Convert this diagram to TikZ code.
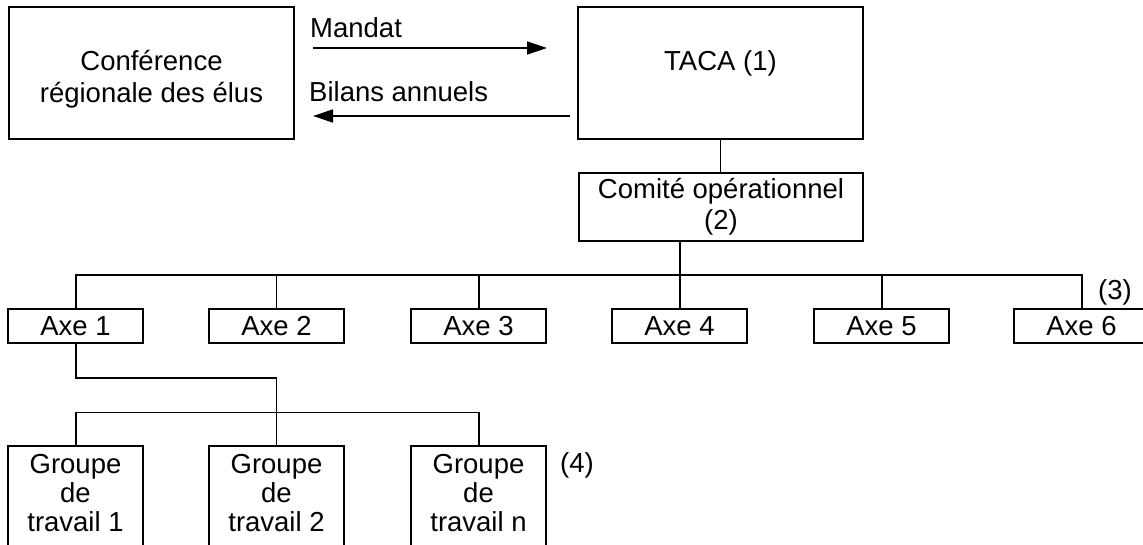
\documentclass[tikz,border=0pt]{standalone}
\usepackage{fontspec}
\setmainfont{Liberation Sans}
\usetikzlibrary{arrows.meta}
\begin{document}
\begin{tikzpicture}[x=1pt,y=-1pt,
  box/.style={draw, line width=2pt, inner sep=0pt, rectangle},
  lbl/.style={font=\fontsize{27.5}{31}\selectfont, align=center, inner sep=0pt},
  connthick/.style={line width=2pt},
  connthin/.style={line width=1pt},
  arr/.style={line width=1.5pt, -{Triangle[length=20pt,width=13pt]}}]
\useasboundingbox (0,0) rectangle (1143,544);
\clip (0,0) rectangle (1143,544);
% top boxes
\node[box, minimum width=285pt, minimum height=132pt] (cre) at (151.5,73) {};
\node[lbl, font=\fontsize{27.5}{32}\selectfont] (cretxt) at (151.5,79) {Conférence\\régionale des élus};
\node[box, minimum width=285pt, minimum height=132pt] (taca) at (720.5,73) {};
\node[lbl] (tacatxt) at (720.5,63) {TACA (1)};
\node[box, minimum width=284pt, minimum height=68pt, lbl, font=\fontsize{27.5}{31}\selectfont] (comite) at (721,207) {Comité opérationnel\\(2)};
% arrows
\coordinate (m1) at (313,48);
\coordinate (m2) at (547,48);
\coordinate (b1) at (570,116);
\coordinate (b2) at (313,116);
\draw[arr] (m1) -- (m2);
\draw[arr] (b1) -- (b2);
\node[lbl, anchor=base west] (mandat) at (310,37) {Mandat};
\node[lbl, anchor=base west] (bilans) at (309,101) {Bilans annuels};
% axes
\foreach \i/\x in {1/75.5,2/276.5,3/478.5,4/679.5,5/881.5,6/1081.5}{
  \node[box, lbl, minimum width=135pt, minimum height=34pt] (axe\i) at (\x,326) {Axe \i};
}
\node[lbl] (n3) at (1115,292) {(3)};
% groups
\node[box, minimum width=135pt, minimum height=114pt] (grp1) at (75.5,503) {};
\node[box, minimum width=135pt, minimum height=114pt] (grp2) at (276.5,503) {};
\node[box, minimum width=135pt, minimum height=114pt] (grp3) at (478.5,503) {};
\node[lbl, font=\fontsize{27.5}{29}\selectfont] (g1t) at (75.5,493) {Groupe\\de\\travail 1};
\node[lbl, font=\fontsize{27.5}{29}\selectfont] (g2t) at (276.5,493) {Groupe\\de\\travail 2};
\node[lbl, font=\fontsize{27.5}{29}\selectfont] (g3t) at (478.5,493) {Groupe\\de\\travail n};
\node[lbl] (n4) at (577,465) {(4)};
% connectors
\coordinate (bus) at (0,275);
\coordinate (busa) at (0,378);
\coordinate (busb) at (0,412);
\draw[connthin] (taca.south) -- (taca.south |- comite.north);
\draw[connthick] (axe4.north |- comite.south) -- (axe4.north);
\draw[connthick] (axe1.north) -- (axe1.north |- bus) -- (axe6.north |- bus) -- (axe6.north);
\draw[connthin] (axe2.north |- bus) -- (axe2.north);
\draw[connthick] (axe3.north |- bus) -- (axe3.north);
\draw[connthick] (axe5.north |- bus) -- (axe5.north);
\draw[connthick] (axe1.south) -- (axe1.south |- busa) -- (grp2.north |- busa);
\draw[connthin] (grp2.north |- busa) -- (grp2.north);
\draw[connthin] (grp1.north |- busb) -- (grp3.north |- busb);
\draw[connthick] (grp1.north |- busb) -- (grp1.north);
\draw[connthick] (grp3.north |- busb) -- (grp3.north);
\end{tikzpicture}
\end{document}
